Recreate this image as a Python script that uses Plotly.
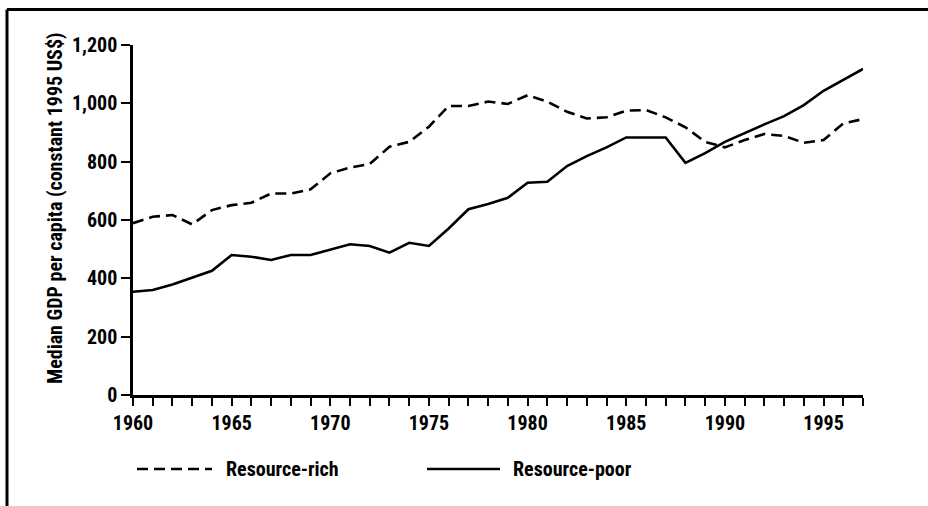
import plotly.graph_objects as go

years = list(range(1960, 1998))
resource_rich = [589, 611, 617, 585, 634, 651, 659, 691, 691, 705,
                 760, 780, 792, 851, 868, 920, 991, 991, 1006, 998,
                 1028, 1006, 971, 948, 952, 975, 977, 952, 918, 868,
                 849, 874, 895, 888, 865, 874, 931, 946]
resource_poor = [354, 360, 379, 402, 426, 480, 474, 463, 480, 480,
                 499, 517, 511, 488, 522, 511, 571, 637, 655, 676,
                 728, 731, 785, 819, 849, 883, 883, 883, 796, 829,
                 868, 899, 928, 956, 994, 1043, 1080, 1118]
y_ticks = [0, 200, 400, 600, 800, 1000, 1200]
x_tick_labels = {1960: "1960", 1965: "1965", 1970: "1970", 1975: "1975",
                 1980: "1980", 1985: "1985", 1990: "1990", 1995: "1995"}
y_title = "Median GDP per capita (constant 1995 US$)"

FONT = "Roboto Condensed, Liberation Sans Narrow, Arial Narrow, Liberation Sans, Arial, sans-serif"
FS = 20

fig = go.Figure()
fig.add_trace(go.Scatter(x=years, y=resource_rich, mode="lines", name="Resource-rich",
                         line=dict(color="black", width=2.6, dash="11px,6px")))
fig.add_trace(go.Scatter(x=years, y=resource_poor, mode="lines", name="Resource-poor",
                         line=dict(color="black", width=2.6)))

W, H = 928, 506
L, R, T, B = 133, 65, 45, 111
pw, ph = W - L - R, H - T - B

def px(x):
    return (x - L) / pw

def py(y):
    return (H - B - y) / ph

tfont = dict(family=FONT, size=FS, color="black", weight="bold")

shapes = [
    dict(type="line", xref="paper", yref="paper", x0=px(7), x1=px(W + 10), y0=py(9.5), y1=py(9.5),
         line=dict(color="black", width=3)),
    dict(type="line", xref="paper", yref="paper", x0=px(7), x1=px(7), y0=py(9.5), y1=py(H + 10),
         line=dict(color="black", width=3)),
    dict(type="line", xref="paper", yref="paper", x0=px(137), x1=px(212), y0=py(469), y1=py(469),
         line=dict(color="black", width=2.4, dash="11px,6px")),
    dict(type="line", xref="paper", yref="paper", x0=px(427), x1=px(500), y0=py(469), y1=py(469),
         line=dict(color="black", width=2.6)),
]
annotations = [
    dict(xref="paper", yref="paper", x=px(224), y=py(469), text="Resource-rich",
         showarrow=False, xanchor="left", yanchor="middle", font=tfont),
    dict(xref="paper", yref="paper", x=px(511), y=py(469), text="Resource-poor",
         showarrow=False, xanchor="left", yanchor="middle", font=tfont),
    dict(xref="paper", yref="paper", x=px(55), y=py(208), text=y_title, textangle=-90,
         showarrow=False, xanchor="center", yanchor="middle", font=tfont),
]

fig.update_layout(
    width=W, height=H,
    margin=dict(l=L, r=R, t=T, b=B, pad=0),
    paper_bgcolor="white", plot_bgcolor="white",
    showlegend=False,
    font=dict(family=FONT, size=FS, color="black"),
    shapes=shapes, annotations=annotations,
)
fig.update_xaxes(
    range=[1960, 1997], tickmode="array", tickvals=years,
    ticktext=[x_tick_labels.get(y, "") for y in years],
    ticks="outside", ticklen=8, tickwidth=2, tickcolor="black",
    showline=True, linecolor="black", linewidth=2.5, showgrid=False, zeroline=False,
    tickfont=tfont,
)
fig.update_yaxes(
    range=[0, 1200], tickmode="array", tickvals=y_ticks,
    ticktext=["{:,}".format(v) for v in y_ticks],
    ticks="outside", ticklen=9, tickwidth=2, tickcolor="black",
    showline=True, linecolor="black", linewidth=2.5, showgrid=False, zeroline=False,
    tickfont=tfont,
)

fig.write_html("out.html", config={"displayModeBar": False},
               post_script="document.body.style.margin='0';")
